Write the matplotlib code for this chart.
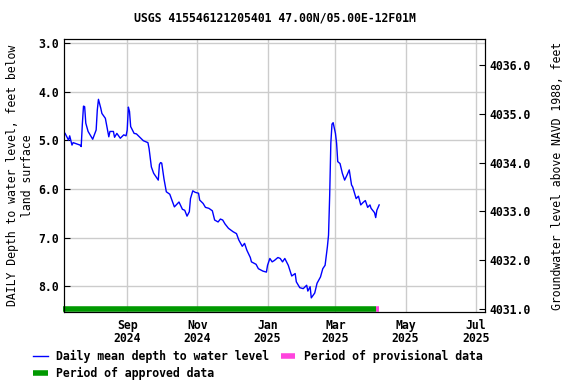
import matplotlib
matplotlib.use('Agg')
import matplotlib.pyplot as plt
import matplotlib.dates as mdates
import pandas as pd

plt.rcParams['font.family'] = 'DejaVu Sans Mono'
plt.rcParams['font.weight'] = 'bold'
plt.rcParams['font.size'] = 8.3

# daily mean depth to water, feet below land surface
dates = [
    '2024-07-09', '2024-07-12', '2024-07-13', '2024-07-15', '2024-07-16', '2024-07-22',
    '2024-07-23', '2024-07-24', '2024-07-25', '2024-07-26', '2024-07-27', '2024-07-29',
    '2024-08-02', '2024-08-05', '2024-08-06', '2024-08-07', '2024-08-09', '2024-08-10',
    '2024-08-13', '2024-08-16', '2024-08-17', '2024-08-20', '2024-08-21', '2024-08-23',
    '2024-08-26', '2024-08-29', '2024-08-31', '2024-09-01', '2024-09-02', '2024-09-03',
    '2024-09-04', '2024-09-07', '2024-09-09', '2024-09-12', '2024-09-15', '2024-09-19',
    '2024-09-20', '2024-09-22', '2024-09-24', '2024-09-28', '2024-09-29', '2024-09-30',
    '2024-10-01', '2024-10-03', '2024-10-05', '2024-10-08', '2024-10-12', '2024-10-16',
    '2024-10-19', '2024-10-21', '2024-10-23', '2024-10-25', '2024-10-26', '2024-10-28',
    '2024-10-30', '2024-11-02', '2024-11-03', '2024-11-06', '2024-11-08', '2024-11-11',
    '2024-11-14', '2024-11-16', '2024-11-19', '2024-11-21', '2024-11-23', '2024-11-25',
    '2024-11-28', '2024-12-02', '2024-12-05', '2024-12-07', '2024-12-10', '2024-12-12',
    '2024-12-14', '2024-12-17', '2024-12-18', '2024-12-22', '2024-12-24', '2024-12-28',
    '2024-12-31', '2025-01-01', '2025-01-03', '2025-01-05', '2025-01-07', '2025-01-10',
    '2025-01-12', '2025-01-14', '2025-01-16', '2025-01-19', '2025-01-22', '2025-01-25',
    '2025-01-26', '2025-01-29', '2025-02-01', '2025-02-04', '2025-02-05', '2025-02-07',
    '2025-02-08', '2025-02-11', '2025-02-13', '2025-02-16', '2025-02-18', '2025-02-20',
    '2025-02-21', '2025-02-22', '2025-02-23', '2025-02-24', '2025-02-25', '2025-02-26',
    '2025-02-27', '2025-03-01', '2025-03-02', '2025-03-03', '2025-03-05', '2025-03-07',
    '2025-03-09', '2025-03-11', '2025-03-13', '2025-03-15', '2025-03-16', '2025-03-19',
    '2025-03-21', '2025-03-23', '2025-03-25', '2025-03-27', '2025-03-29', '2025-03-31',
    '2025-04-01', '2025-04-04', '2025-04-05', '2025-04-06', '2025-04-08',
]
depth = [
    4.86, 5.00, 4.91, 5.10, 5.05, 5.10,
    5.13, 4.67, 4.30, 4.31, 4.65, 4.82,
    4.98, 4.79, 4.38, 4.16, 4.34, 4.45,
    4.55, 4.93, 4.82, 4.82, 4.94, 4.86,
    4.96, 4.89, 4.91, 4.79, 4.32, 4.41,
    4.72, 4.86, 4.87, 4.94, 5.01, 5.05,
    5.17, 5.55, 5.68, 5.82, 5.50, 5.46,
    5.47, 5.80, 6.06, 6.11, 6.37, 6.27,
    6.42, 6.44, 6.56, 6.47, 6.20, 6.04,
    6.07, 6.09, 6.23, 6.30, 6.38, 6.40,
    6.45, 6.64, 6.68, 6.62, 6.64, 6.72,
    6.81, 6.88, 6.92, 7.05, 7.18, 7.12,
    7.26, 7.41, 7.50, 7.55, 7.64, 7.69,
    7.71, 7.57, 7.43, 7.50, 7.47, 7.41,
    7.43, 7.50, 7.43, 7.57, 7.79, 7.74,
    7.91, 8.03, 8.05, 7.98, 8.10, 8.01,
    8.24, 8.14, 7.94, 7.81, 7.64, 7.57,
    7.38, 7.19, 6.95, 6.13, 5.06, 4.67,
    4.64, 4.86, 5.06, 5.44, 5.48, 5.68,
    5.82, 5.72, 5.61, 5.92, 5.96, 6.20,
    6.15, 6.33, 6.28, 6.24, 6.38, 6.33,
    6.40, 6.49, 6.59, 6.44, 6.33,
]
dates = pd.to_datetime(dates)

approved = ('2024-07-07', '2025-04-05')
provisional = ('2025-04-05', '2025-04-08')
datum = 4039.46  # land surface elevation, NAVD 1988
depth_lim = (8.53, 2.92)

fig = plt.figure(figsize=(5.76, 3.84), dpi=100)
ax = fig.add_axes([0.111, 0.1875, 0.731, 0.711])

ax.plot(dates, depth, color='#0000ff', linewidth=1.0, label='Daily mean depth to water level')
bar_y = 8.47
ax.plot(pd.to_datetime(approved), [bar_y, bar_y], color='#009900', linewidth=4,
        solid_capstyle='butt', label='Period of approved data', clip_on=False)
ax.plot(pd.to_datetime(provisional), [bar_y, bar_y], color='#ff44dd', linewidth=4,
        solid_capstyle='butt', label='Period of provisional data', clip_on=False)

ax.set_ylim(*depth_lim)
ax.set_xlim(pd.Timestamp('2024-07-08'), pd.Timestamp('2025-07-09'))
ax.set_yticks([3.0, 4.0, 5.0, 6.0, 7.0, 8.0])
ax.yaxis.set_major_formatter(plt.FormatStrFormatter('%.1f'))
ax.xaxis.set_major_locator(mdates.MonthLocator(bymonth=[1, 3, 5, 7, 9, 11]))
ax.xaxis.set_major_formatter(mdates.DateFormatter('%b\n%Y'))
ax.grid(True, color='#cccccc', linewidth=1)
ax.set_axisbelow(True)
ax.tick_params(direction='in', length=4)
ax.tick_params(axis='x', length=0, pad=5)
for lbl in ax.get_xticklabels():
    lbl.set_linespacing(1.05)
ax.set_ylabel('DAILY Depth to water level, feet below\nland surface', labelpad=3)

ax2 = ax.twinx()
ax2.set_ylim(datum - depth_lim[0], datum - depth_lim[1])
ax2.set_yticks([4031, 4032, 4033, 4034, 4035, 4036])
ax2.yaxis.set_major_formatter(plt.FormatStrFormatter('%.1f'))
ax2.tick_params(direction='in', length=4)
ax2.set_ylabel('Groundwater level above NAVD 1988, feet', labelpad=14)

ax.set_title('USGS 415546121205401 47.00N/05.00E-12F01M', fontsize=8.3, fontweight='bold', pad=12.5)

handles, labels = ax.get_legend_handles_labels()
fig.legend(handles, labels, loc='lower left', bbox_to_anchor=(0.048, -0.005), ncol=2,
           frameon=False, handlelength=1.25, columnspacing=0.95, handletextpad=0.75,
           borderaxespad=0.1, labelspacing=0.35)

fig.savefig('out.png', dpi=100)
